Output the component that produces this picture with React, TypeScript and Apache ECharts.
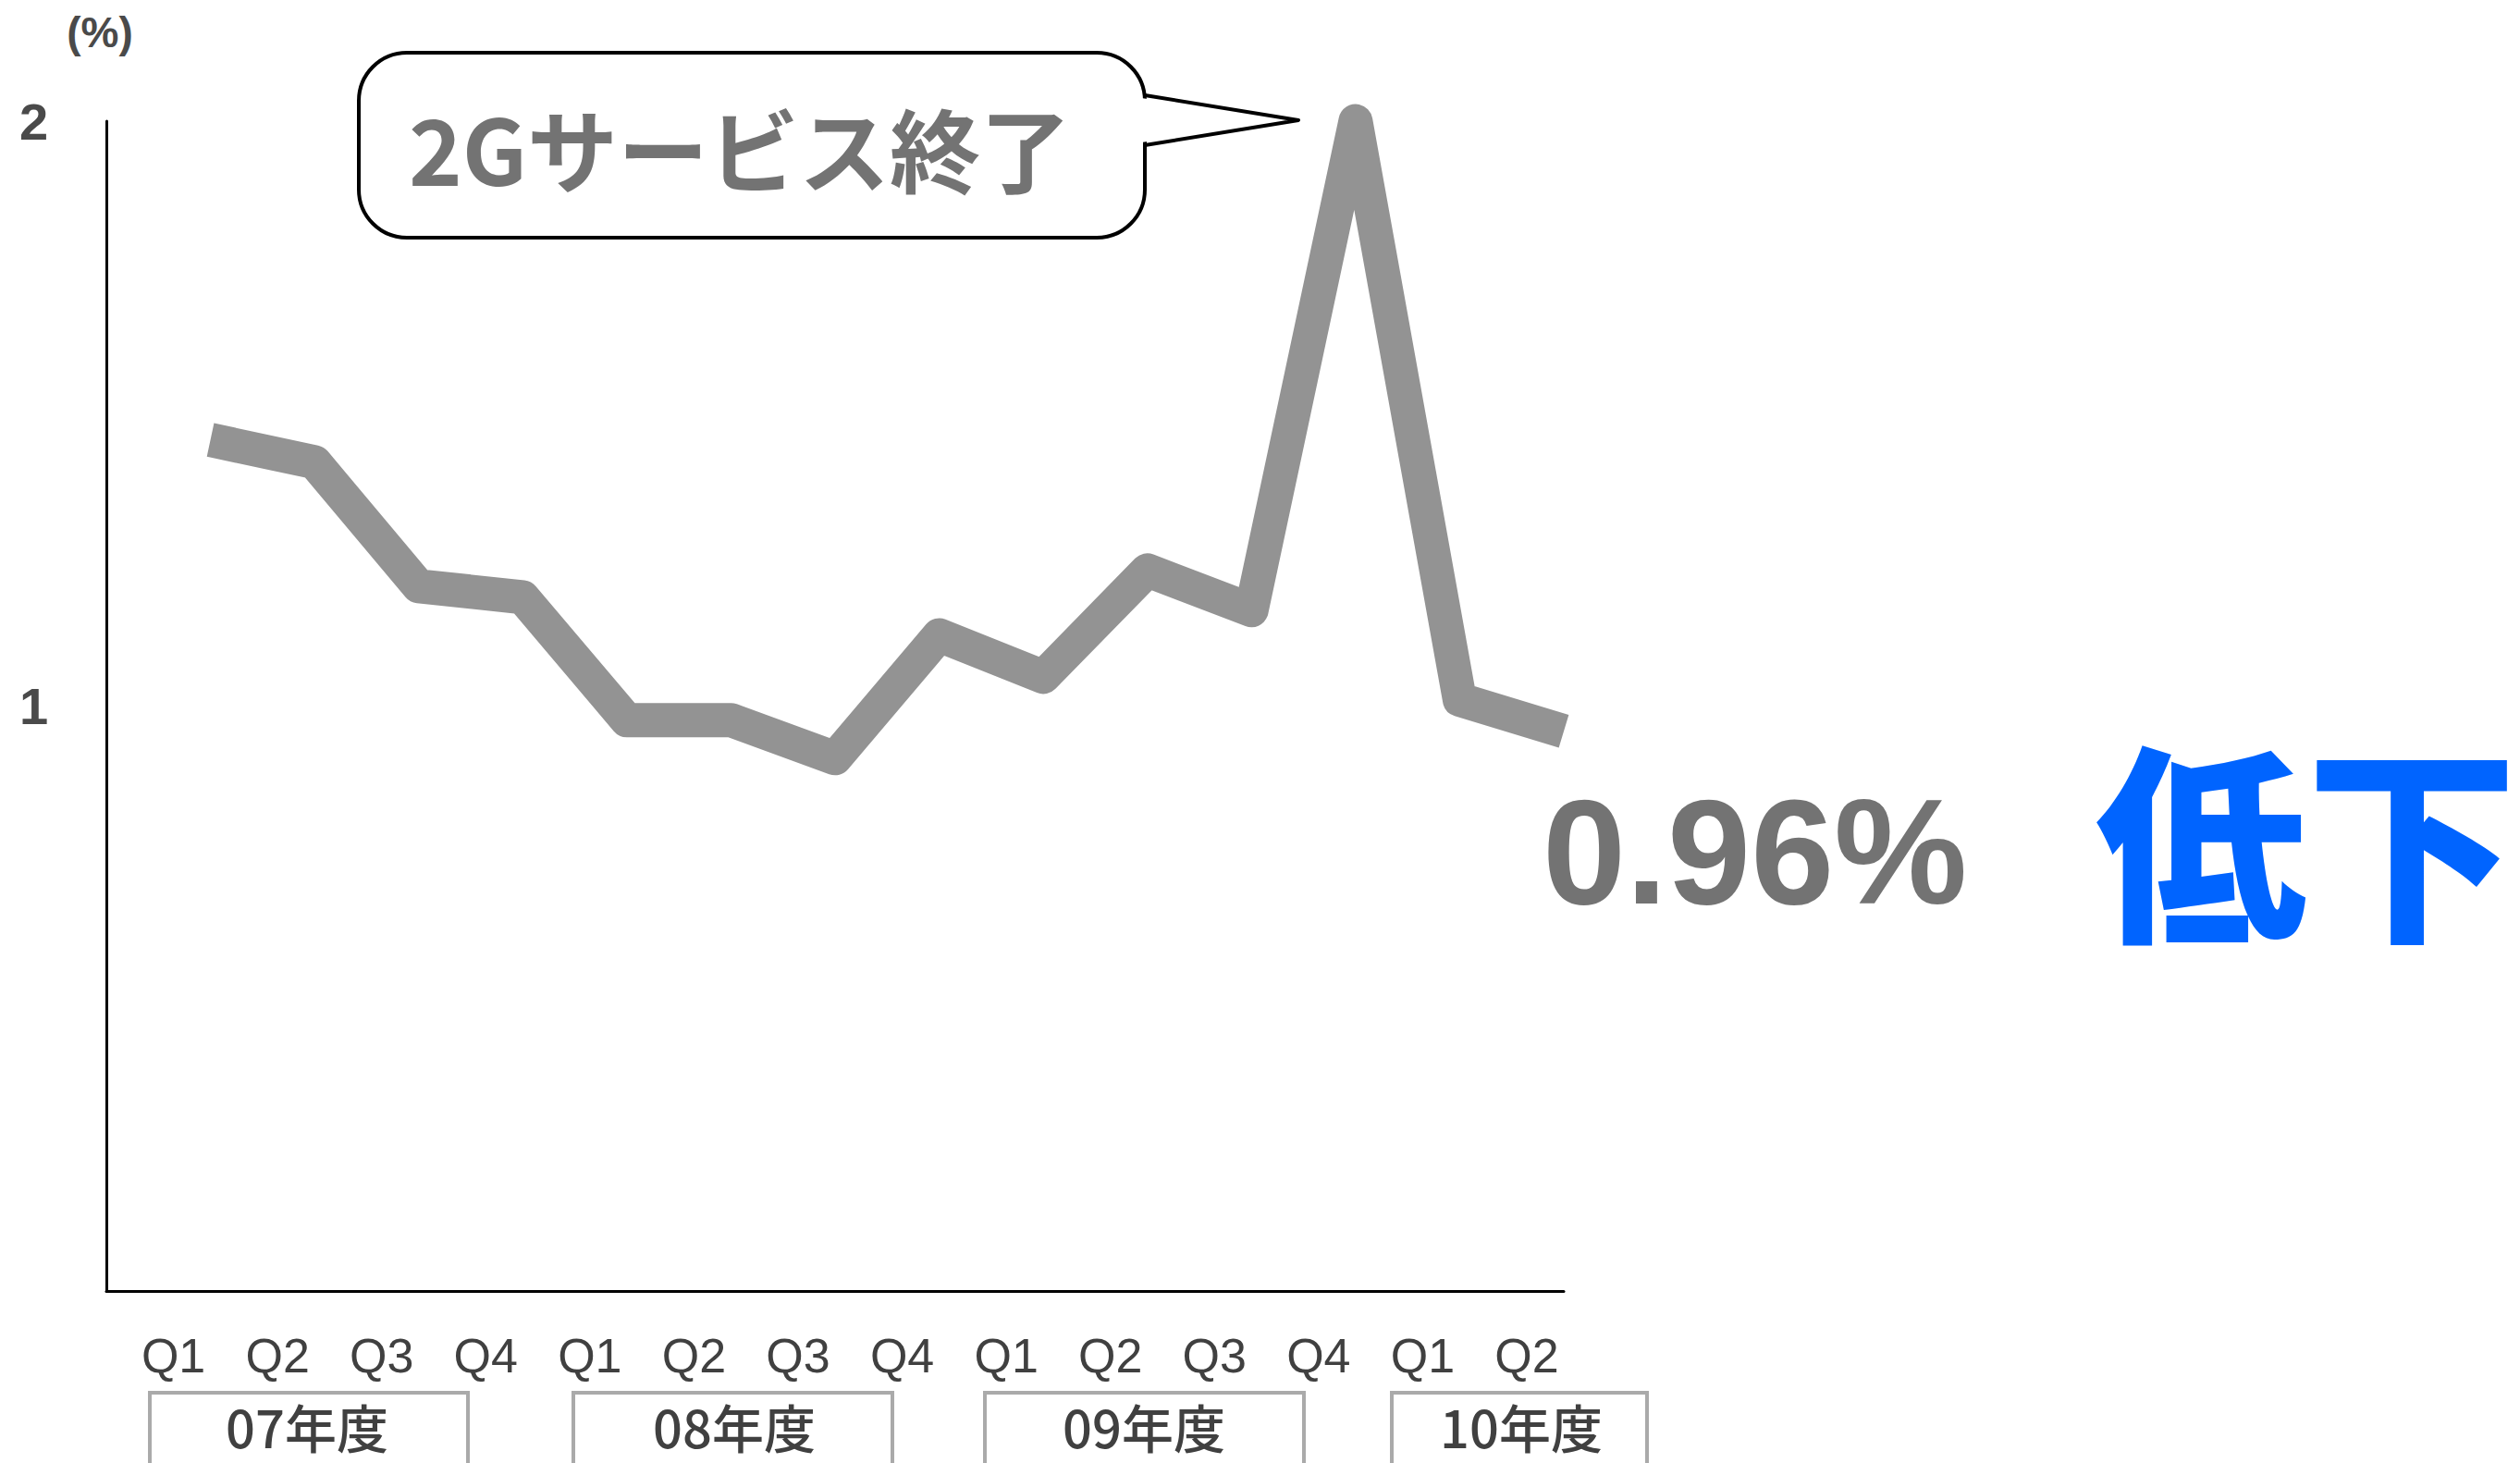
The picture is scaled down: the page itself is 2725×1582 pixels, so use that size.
import React, { useEffect, useRef } from "react";
import * as echarts from "echarts";

// ---- data ----
const quarters = ["Q1", "Q2", "Q3", "Q4", "Q1", "Q2", "Q3", "Q4", "Q1", "Q2", "Q3", "Q4", "Q1", "Q2"];
const churnRate = [1.455, 1.417, 1.205, 1.186, 0.976, 0.976, 0.911, 1.121, 1.05, 1.232, 1.164, 2.0, 1.011, 0.957];
const yTickValues = [0, 1, 2];
const fiscalYears = ["07年度", "08年度", "09年度", "10年度"];
const unitLabel = "(%)";
const calloutText = "2Gサービス終了";
const latestValueText = "0.96%";
const trendText = "低下";

// ---- layout (positions only) ----
const W = 2725;
const H = 1582;
const GRID = { left: 115, top: 131, right: W - 1691, bottom: H - 1396 };
const yearBoxes = [
  { x: 162, w: 344, cx: 332 },
  { x: 620, w: 345, cx: 794 },
  { x: 1065, w: 345, cx: 1237 },
  { x: 1505, w: 276, cx: 1645 },
];

export default function App() {
  const ref = useRef<HTMLDivElement>(null);

  useEffect(() => {
    if (!ref.current) return;
    const chart = echarts.init(ref.current, null, { renderer: "svg" });

    const categories = ["", ...quarters];
    const seriesData: (number | string)[] = ["-", ...churnRate];

    const yearGraphics: any[] = [];
    fiscalYears.forEach((label, i) => {
      const b = yearBoxes[i];
      yearGraphics.push({
        type: "rect",
        shape: { x: b.x, y: 1506, width: b.w, height: 120 },
        style: { fill: "none", stroke: "#aaaaaa", lineWidth: 4 },
        z: 10,
      });
      yearGraphics.push({
        type: "text",
        x: b.cx,
        y: 1541,
        style: {
          text: label,
          fill: "#404040",
          font: '500 56px "Noto Sans CJK JP", sans-serif',
          align: "center",
          verticalAlign: "middle",
        },
        z: 11,
      });
    });

    chart.setOption({
      animation: false,
      backgroundColor: "#ffffff",
      grid: { ...GRID, containLabel: false },
      xAxis: {
        type: "category",
        data: categories,
        boundaryGap: false,
        axisLine: { show: true, lineStyle: { color: "#000000", width: 3 } },
        axisTick: { show: false },
        splitLine: { show: false },
        axisLabel: {
          interval: 0,
          margin: 44,
          color: "#404040",
          fontSize: 52,
          fontFamily: '"Liberation Sans", Arial, sans-serif',
          padding: [0, 80, 0, 0],
        },
      },
      yAxis: {
        type: "value",
        min: yTickValues[0],
        max: yTickValues[yTickValues.length - 1],
        interval: 1,
        axisLine: { show: true, lineStyle: { color: "#000000", width: 3 } },
        axisTick: { show: false },
        splitLine: { show: false },
        axisLabel: {
          margin: 94,
          align: "left",
          color: "#4a4a4a",
          fontSize: 56,
          fontWeight: "bold",
          fontFamily: '"Liberation Sans", Arial, sans-serif',
          formatter: (v: number) => (v === 0 ? "" : String(v)),
        },
      },
      series: [
        {
          type: "line",
          data: seriesData,
          symbol: "none",
          clip: false,
          z: 5,
          lineStyle: { color: "#939393", width: 37, cap: "butt", join: "round" },
        },
      ],
      graphic: [
        {
          type: "text",
          x: 108,
          y: 35,
          style: {
            text: unitLabel,
            fill: "#4a4a4a",
            font: 'bold 46px "Liberation Sans", Arial, sans-serif',
            align: "center",
            verticalAlign: "middle",
          },
        },
        // callout bubble
        {
          type: "rect",
          shape: { x: 388, y: 57, width: 850, height: 200, r: 52 },
          style: { fill: "#ffffff", stroke: "#000000", lineWidth: 4 },
          z: 20,
        },
        {
          type: "polygon",
          shape: { points: [[1234, 106], [1402, 130], [1234, 154]] },
          style: { fill: "#ffffff", stroke: "none" },
          z: 21,
        },
        {
          type: "polyline",
          shape: { points: [[1238, 103], [1404, 130], [1238, 157]] },
          style: { fill: "none", stroke: "#000000", lineWidth: 4, lineJoin: "round" },
          z: 22,
        },
        {
          type: "text",
          x: 800,
          y: 158,
          style: {
            text: calloutText,
            fill: "#737373",
            font: 'bold 98px "Noto Sans CJK JP", sans-serif',
            align: "center",
            verticalAlign: "middle",
          },
          z: 23,
        },
        {
          type: "text",
          x: 1668,
          y: 920,
          style: {
            text: latestValueText,
            fill: "#737373",
            font: 'bold 162px "Liberation Sans", Arial, sans-serif',
            align: "left",
            verticalAlign: "middle",
          },
          z: 20,
        },
        {
          type: "text",
          x: 2494,
          y: 902,
          style: {
            text: trendText,
            fill: "#0064ff",
            font: '900 228px "Noto Sans CJK JP", sans-serif',
            align: "center",
            verticalAlign: "middle",
          },
          z: 20,
        },
        ...yearGraphics,
      ],
    });

    return () => chart.dispose();
  }, []);

  return (
    <div
      ref={ref}
      style={{ position: "fixed", left: 0, top: 0, width: W, height: H, background: "#ffffff" }}
    />
  );
}
